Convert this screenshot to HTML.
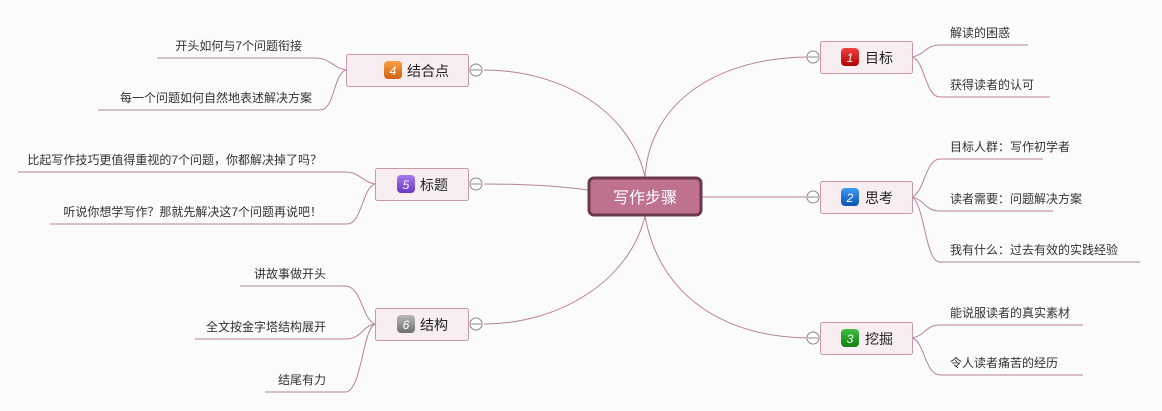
<!DOCTYPE html>
<html><head><meta charset="utf-8"><style>
html,body{margin:0;padding:0;background:#fcfbfc;}
svg{display:block;}
text{font-family:"Liberation Sans","Noto Sans CJK SC",sans-serif;}
</style></head><body>
<svg width="1162" height="411" viewBox="0 0 1162 411" xmlns="http://www.w3.org/2000/svg">
<defs>
<linearGradient id="gr" x1="0" y1="0" x2="0" y2="1"><stop offset="0" stop-color="#f04040"/><stop offset="1" stop-color="#b00000"/></linearGradient>
<linearGradient id="gb" x1="0" y1="0" x2="0" y2="1"><stop offset="0" stop-color="#3c9cf0"/><stop offset="1" stop-color="#0a52b8"/></linearGradient>
<linearGradient id="gg" x1="0" y1="0" x2="0" y2="1"><stop offset="0" stop-color="#40c040"/><stop offset="1" stop-color="#108010"/></linearGradient>
<linearGradient id="go" x1="0" y1="0" x2="0" y2="1"><stop offset="0" stop-color="#f8a040"/><stop offset="1" stop-color="#d06010"/></linearGradient>
<linearGradient id="gp" x1="0" y1="0" x2="0" y2="1"><stop offset="0" stop-color="#a878f0"/><stop offset="1" stop-color="#6a38c0"/></linearGradient>
<linearGradient id="gy" x1="0" y1="0" x2="0" y2="1"><stop offset="0" stop-color="#b8b8b8"/><stop offset="1" stop-color="#707070"/></linearGradient>
</defs>
<g fill="none" stroke="#b88298" stroke-width="1">
<!-- main branches -->
<path d="M645 177 C650 100 720 57 810 57"/>
<path d="M702 197 L810 197"/>
<path d="M645 216 C660 300 730 338 810 338"/>
<path d="M645 177 C630 110 560 70 484 70"/>
<path d="M588 190 C560 186 520 184 484 184"/>
<path d="M645 216 C630 280 560 324 484 324"/>
<!-- right leaves -->
<path d="M912 57 C925 55 925 45 940 45 L1028 45"/>
<path d="M912 57 C925 60 925 97 940 97 L1050 97"/>
<path d="M912 197 C925 192 925 159 940 159 L1043 159"/>
<path d="M912 197 C925 200 925 211 940 211 L1053 211"/>
<path d="M912 197 C925 205 925 262 940 262 L1140 262"/>
<path d="M912 338 C925 336 925 325 940 325 L1083 325"/>
<path d="M912 338 C925 342 925 375 940 375 L1083 375"/>
<!-- left leaves -->
<path d="M346 70 C333 68 330 58 315 58 L157 58"/>
<path d="M346 70 C333 74 335 110 320 110 L98 110"/>
<path d="M375 184 C362 182 360 172 345 172 L18 172"/>
<path d="M375 184 C362 188 362 224 347 224 L50 224"/>
<path d="M375 324 C362 320 362 286 345 286 L240 286"/>
<path d="M375 324 C362 326 362 339 345 339 L195 339"/>
<path d="M375 324 C362 330 362 392 345 392 L265 392"/>
</g>
<!-- center -->
<rect x="589" y="178" width="112" height="37" rx="5" fill="#bf7190" stroke="#6a3a4c" stroke-width="3"/>
<text x="645" y="203" font-size="16" fill="#fff" text-anchor="middle">写作步骤</text>
<g stroke="#c898ab" fill="#f8eef2">
<rect x="820.5" y="41.5" width="92" height="32" rx="2"/>
<rect x="820.5" y="181.5" width="92" height="32" rx="2"/>
<rect x="820.5" y="322.5" width="92" height="32" rx="2"/>
<rect x="346.5" y="54.5" width="122" height="32" rx="2"/>
<rect x="375.5" y="168.5" width="93" height="32" rx="2"/>
<rect x="375.5" y="308.5" width="93" height="32" rx="2"/>
</g>
<g stroke="#888" fill="#fff">
<circle cx="813" cy="57" r="6"/><circle cx="813" cy="197" r="6"/><circle cx="813" cy="338" r="6"/>
<circle cx="476" cy="70" r="6"/><circle cx="476" cy="184" r="6"/><circle cx="476" cy="324" r="6"/>
</g>
<g stroke="#888"><path d="M808 57h10M808 197h10M808 338h10M471 70h10M471 184h10M471 324h10"/></g>
<!-- icons -->
<rect x="841" y="48" width="18" height="18" rx="4" fill="url(#gr)"/>
<rect x="841" y="188" width="18" height="18" rx="4" fill="url(#gb)"/>
<rect x="841" y="329" width="18" height="18" rx="4" fill="url(#gg)"/>
<rect x="384" y="61" width="18" height="18" rx="4" fill="url(#go)"/>
<rect x="397" y="175" width="18" height="18" rx="4" fill="url(#gp)"/>
<rect x="397" y="315" width="18" height="18" rx="4" fill="url(#gy)"/>
<g fill="#fff" font-size="12" font-style="italic" text-anchor="middle">
<text x="850" y="62">1</text><text x="850" y="202">2</text><text x="850" y="343">3</text>
<text x="393" y="75">4</text><text x="406" y="189">5</text><text x="406" y="329">6</text>
</g>
<g fill="#222" font-size="14">
<text x="865" y="63">目标</text><text x="865" y="203">思考</text><text x="865" y="344">挖掘</text>
<text x="407" y="76">结合点</text><text x="420" y="190">标题</text><text x="420" y="330">结构</text>
</g>
<g fill="#333" font-size="12">
<text x="950" y="37">解读的困惑</text>
<text x="950" y="89">获得读者的认可</text>
<text x="950" y="151">目标人群：写作初学者</text>
<text x="950" y="203">读者需要：问题解决方案</text>
<text x="950" y="254">我有什么：过去有效的实践经验</text>
<text x="950" y="317">能说服读者的真实素材</text>
<text x="950" y="367">令人读者痛苦的经历</text>
</g>
<g fill="#333" font-size="12" text-anchor="end">
<text x="302" y="50">开头如何与7个问题衔接</text>
<text x="312" y="102">每一个问题如何自然地表述解决方案</text>
<text x="322" y="164">比起写作技巧更值得重视的7个问题，你都解决掉了吗？</text>
<text x="322" y="216">听说你想学写作？那就先解决这7个问题再说吧！</text>
<text x="326" y="278">讲故事做开头</text>
<text x="326" y="331">全文按金字塔结构展开</text>
<text x="326" y="384">结尾有力</text>
</g>
</svg>
</body></html>
